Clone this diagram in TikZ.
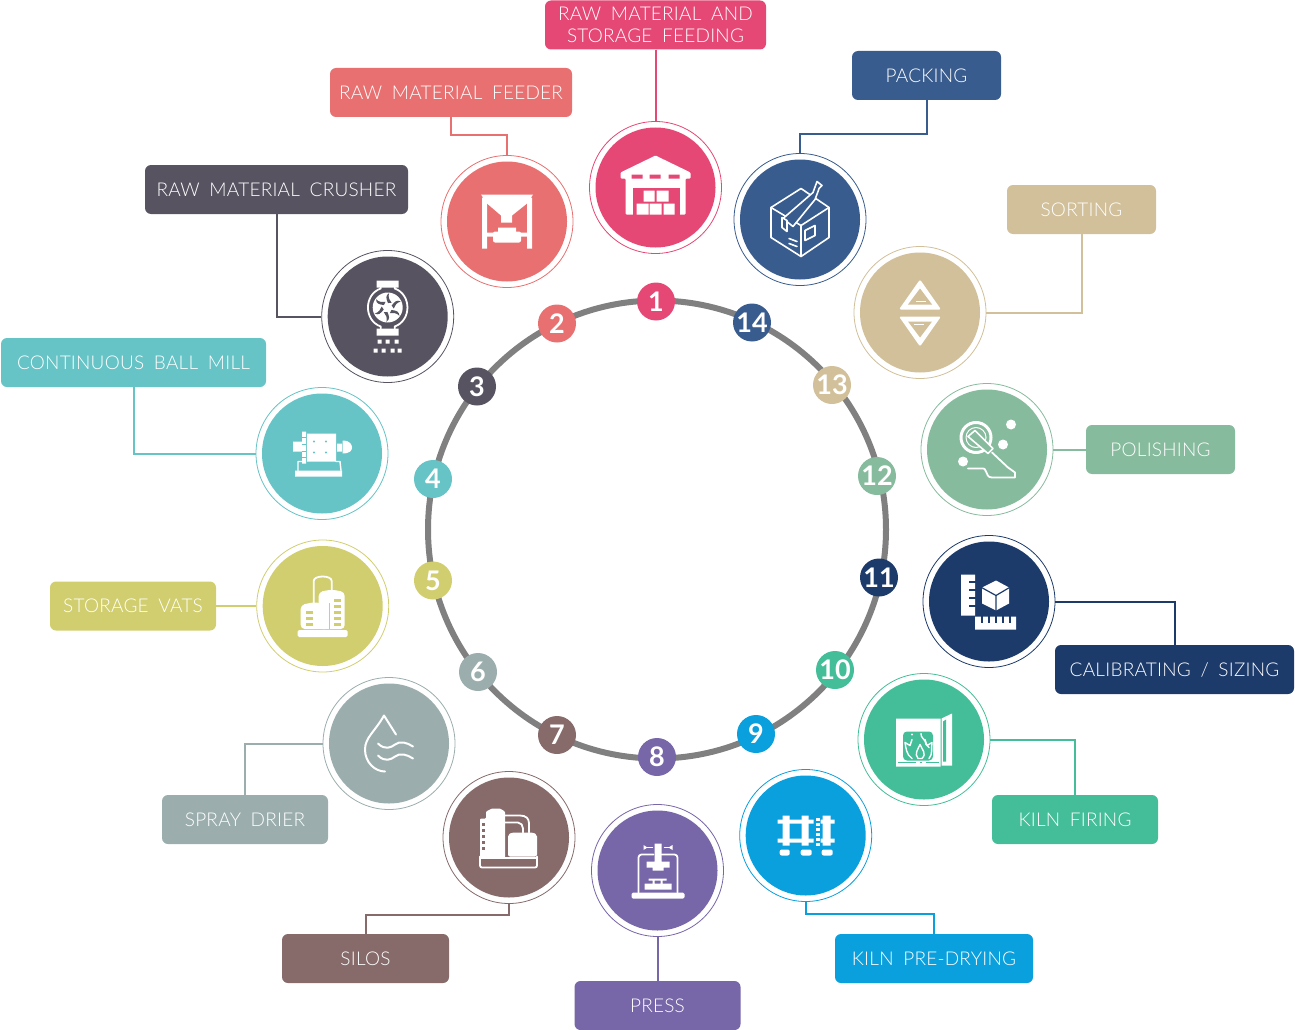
\documentclass[tikz,border=0pt]{standalone}
\usepackage{fontspec}
\usepackage{tikz}
\setmainfont[WordSpace=1.8,LetterSpace=1.2]{Lato Light}
\newfontfamily\numfont{Lato Bold}
\definecolor{col1}{HTML}{E54875}
\definecolor{col2}{HTML}{E87070}
\definecolor{col3}{HTML}{575361}
\definecolor{col4}{HTML}{66C3C6}
\definecolor{col5}{HTML}{D1CE6F}
\definecolor{col6}{HTML}{9BAEAD}
\definecolor{col7}{HTML}{876B6B}
\definecolor{col8}{HTML}{7766A8}
\definecolor{col9}{HTML}{0A9FDD}
\definecolor{col10}{HTML}{44BE98}
\definecolor{col11}{HTML}{1C3B6B}
\definecolor{col12}{HTML}{87BB9D}
\definecolor{col13}{HTML}{D1C09A}
\definecolor{col14}{HTML}{395C8F}

\begin{document}
\begin{tikzpicture}[x=1pt,y=-1pt,
    dot/.style={circle,fill=#1,text=white,minimum size=38,inner sep=0,font=\numfont\fontsize{27}{27}\selectfont},
    ring/.style={circle,draw=#1,fill=white,line width=.8,minimum size=132,inner sep=0,
                 path picture={\fill[#1] (path picture bounding box.center) circle (60);}},
    tag/.style={rounded corners=6,fill=#1,text=white,minimum height=49,inner sep=0,align=center,
                font=\fontsize{19}{22}\selectfont},
    link/.style={draw=#1,line width=2},
    wline/.style={draw=white,line width=1.8,line join=round,line cap=round}]
  \useasboundingbox (0,0) rectangle (1295,1030);

  \node[circle,draw=black!50,line width=6,minimum size=458,inner sep=0] (W) at (657,529.5) {};

  \node[dot=col1]  (S1)  at (656,301.5) {1};
  \node[dot=col2]  (S2)  at (557,323.5) {2};
  \node[dot=col3]  (S3)  at (477,386.5) {3};
  \node[dot=col4]  (S4)  at (433,479) {4};
  \node[dot=col5]  (S5)  at (433,580.5) {5};
  \node[dot=col6]  (S6)  at (478,672) {6};
  \node[dot=col7]  (S7)  at (557,735) {7};
  \node[dot=col8]  (S8)  at (657,757) {8};
  \node[dot=col9]  (S9)  at (756,734) {9};
  \node[dot=col10] (S10) at (835,670) {10};
  \node[dot=col11] (S11) at (879,577.5) {11};
  \node[dot=col12] (S12) at (877,476) {12};
  \node[dot=col13] (S13) at (832,385) {13};
  \node[dot=col14] (S14) at (752,322.5) {14};

  \node[ring=col1]  (I1)  at (655.5,187.5) {};
  \node[ring=col2]  (I2)  at (507,221.5) {};
  \node[ring=col3]  (I3)  at (387.7,316.5) {};
  \node[ring=col4]  (I4)  at (322,453.5) {};
  \node[ring=col5]  (I5)  at (322.7,606) {};
  \node[ring=col6]  (I6)  at (389,743.5) {};
  \node[ring=col7]  (I7)  at (509,837.5) {};
  \node[ring=col8]  (I8)  at (657.5,870.5) {};
  \node[ring=col9]  (I9)  at (805.7,835.5) {};
  \node[ring=col10] (I10) at (924,739.5) {};
  \node[ring=col11] (I11) at (989,601.5) {};
  \node[ring=col12] (I12) at (987,449.5) {};
  \node[ring=col13] (I13) at (920,312.5) {};
  \node[ring=col14] (I14) at (800,219.5) {};

  \node[tag=col1,minimum width=221]  (L1)  at (655.5,25)  {RAW MATERIAL AND\\STORAGE FEEDING};
  \node[tag=col2,minimum width=242]  (L2)  at (451,92.5)  {RAW MATERIAL FEEDER};
  \node[tag=col3,minimum width=263]  (L3)  at (276.5,189.5) {RAW MATERIAL CRUSHER};
  \node[tag=col4,minimum width=265]  (L4)  at (133.5,362.5) {CONTINUOUS BALL MILL};
  \node[tag=col5,minimum width=166]  (L5)  at (133,606) {STORAGE VATS};
  \node[tag=col6,minimum width=166]  (L6)  at (245,819.5) {SPRAY DRIER};
  \node[tag=col7,minimum width=167]  (L7)  at (365.5,958.5) {SILOS};
  \node[tag=col8,minimum width=166]  (L8)  at (657.5,1005.5) {PRESS};
  \node[tag=col9,minimum width=198]  (L9)  at (934,958.5) {KILN PRE-DRYING};
  \node[tag=col10,minimum width=166] (L10) at (1075,819.5) {KILN FIRING};
  \node[tag=col11,minimum width=239] (L11) at (1174.5,669.5) {CALIBRATING / SIZING};
  \node[tag=col12,minimum width=149] (L12) at (1160.5,449.5) {POLISHING};
  \node[tag=col13,minimum width=149] (L13) at (1081.5,209.5) {SORTING};
  \node[tag=col14,minimum width=149] (L14) at (926.5,75.5) {PACKING};

  \path[link=col1]  (L1) -- (I1);
  \path[link=col2]  (L2.south) -- ++(0,18) -| (I2.north);
  \path[link=col3]  (L3.south) |- (I3.west);
  \path[link=col4]  (L4.south) |- (I4.west);
  \path[link=col5]  (L5) -- (I5);
  \path[link=col6]  (I6.west) -| (L6.north);
  \path[link=col7]  (I7.south) -- ++(0,11) -| (L7.north);
  \path[link=col8]  (I8) -- (L8);
  \path[link=col9]  (I9.south) -- ++(0,12) -| (L9.north);
  \path[link=col10] (I10.east) -| (L10.north);
  \path[link=col11] (I11.east) -| (L11.north);
  \path[link=col12] (I12) -- (L12);
  \path[link=col13] (L13.south) |- (I13.east);
  \path[link=col14] (L14.south) -- ++(0,34) -| (I14.north);

  % warehouse
  \begin{scope}[shift={(I1)}]
    \fill[white,rounded corners=1] (0,-32) -- (35,-15) -- (35,-9) -- (30,-9) -- (30,27) -- (-30,27)
      -- (-30,-9) -- (-35,-9) -- (-35,-15) -- cycle;
    \fill[col1] (-24,-13) rectangle (-13,-9) (-6,-13) rectangle (5,-9) (13,-13) rectangle (24,-9);
    \fill[col1] (-23,0) rectangle (24,27.5);
    \fill[white] (-12,3) rectangle (-1,14) (1,3) rectangle (13,14)
      (-19,16) rectangle (-7,27) (-6,16) rectangle (6,27) (8,16) rectangle (19,27);
  \end{scope}

  % hopper over a mixer
  \begin{scope}[shift={(I2)}]
    \fill[white] (-25,-24) rectangle (-20,27) (20,-24) rectangle (25,27);
    \fill[white] (-26,-27) -- (26,-27) -- (20,-18) -- (5,-6) -- (5,1) -- (-6,1) -- (-6,-6) -- (-20,-18) -- cycle;
    \fill[white] (-20,11) rectangle (20,15) (-9,6) rectangle (9,11);
    \fill[white,rounded corners=2] (-14,10) rectangle (14,21);
  \end{scope}

  % crusher
  \begin{scope}[shift={(I3)}]
    \fill[white] (-11,-36) rectangle (11,-29) (-11,12) rectangle (11,19);
    \draw[wline] (-7,-29) -- (-7,-28) .. controls (-24,-22) and (-24,4) .. (-7,10)
      -- (-7,12) (7,-29) -- (7,-28) .. controls (24,-22) and (24,4) .. (7,10) -- (7,12);
    \fill[white] (0,-9) circle (15);
    \foreach \a in {0,60,...,300}
      \fill[col3,shift={(0,-9)},rotate=\a] (4,-2) .. controls (7,-6) and (9,-8) .. (13,-6) .. controls (9,-5) and (7,-2) .. (6,1) -- cycle;
    \fill[white] (-10,23) rectangle ++(4,4) (-2,23) rectangle ++(4,4) (7,23) rectangle ++(4,4)
      (-14,32) rectangle ++(4,4) (-6,32) rectangle ++(4,4) (3,32) rectangle ++(4,4) (10,32) rectangle ++(4,4);
  \end{scope}

  % ball mill
  \begin{scope}[shift={(I4)}]
    \fill[white] (-15,-20) rectangle (14,8) (-20,-22) rectangle (-16,10) (-29,-12) rectangle (-20,-2)
      (15,-10) rectangle (20,-2) (-27,17) rectangle (20,23);
    \fill[white] (20.5,-13) .. controls (28,-13) and (30,-9) .. (30,-6) .. controls (30,-3) and (28,0) .. (20.5,0) -- cycle;
    \draw[col4,line width=.8] (-20,-16) -- (-16,-16) (-20,-9) -- (-16,-9) (-20,-2) -- (-16,-2) (-20,4) -- (-16,4);
    \fill[col4] (-8,-12) circle (1.2) (4,-12) circle (1.2) (-8,-1) circle (1.2) (4,-1) circle (1.2);
    \draw[wline,line width=1.4] (-24,17) -- (-24,8) -- (-20,8) (14,8) -- (18,8) -- (19,17);
  \end{scope}

  % tanks with ladders
  \begin{scope}[shift={(I5)}]
    \fill[white,rounded corners=1.5] (-25,24) rectangle (25,31);
    \draw[wline] (-9,-3) -- (-9,-25) .. controls (-9,-31) and (9,-31) .. (9,-25) -- (9,-16);
    \fill[white,rounded corners=4] (-4,23) -- (-4,-14) -- (9,-16.5) -- (22,-14) -- (22,23) -- cycle;
    \draw[col5,line width=1] (6.7,23) -- (6.7,-3);
    \fill[white,rounded corners=4] (-22,23) -- (-22,-1) -- (-8,-4) -- (6,-1) -- (6,23) -- cycle;
    \foreach \y in {-7,-1,5,11,17}
      \fill[col5] (11,\y) rectangle ++(7,3);
    \foreach \y in {5,11,17}
      \fill[col5] (-17,\y) rectangle ++(7,3);
  \end{scope}

  % drop with waves
  \begin{scope}[shift={(I6)}]
    \draw[wline,line width=2] (7,-9) -- (-5,-28) .. controls (-14,-12) and (-24,-6) .. (-24,6)
      .. controls (-24,19) and (-14,28) .. (-4,28);
    \draw[wline,line width=2] (-11,0) .. controls (-4,7) and (2,4) .. (6,1) .. controls (11,-3) and (18,-1) .. (24,3);
    \draw[wline,line width=2] (-11,12) .. controls (-4,19) and (2,16) .. (6,13) .. controls (11,9) and (18,11) .. (24,15);
  \end{scope}

  % silos
  \begin{scope}[shift={(I7)}]
    \fill[white,rounded corners=1] (-29,-19) -- (-23,-19) -- (-23,-26) -- (-17,-29) -- (-9,-29) -- (-4,-26) -- (-4,20) -- (-29,20) -- cycle;
    \fill[white,rounded corners=2] (-1,19) -- (-1,-3) -- (3,-5) -- (24,-5) -- (28,-3) -- (28,19) -- cycle;
    \foreach \y in {-15,-9,-3,3,9}
      \fill[col7] (-27,\y) rectangle ++(3,3);
    \draw[wline] (-4,-22) -- (11,-22) .. controls (17,-22) and (20,-19) .. (20,-14) -- (20,-5);
    \draw[wline] (-4,-15) -- (9,-15) .. controls (12,-15) and (14,-12) .. (14,-9) -- (14,-5);
    \draw[wline,rounded corners=2] (-29,19) -- (-29,30) -- (28,30) -- (28,19);
    \draw[white,line width=2] (-29,20) -- (28,20);
    \draw[col7,line width=1] (-27,23) -- (26,23);
  \end{scope}

  % press
  \begin{scope}[shift={(I8)}]
    \fill[white,rounded corners=1.5] (-26,22) rectangle (27,28);
    \fill[white] (-3,-27) rectangle (4,-9) (-11,-9) rectangle (12,-3) (-5,-3) rectangle (6,0);
    \fill[white] (-13,13) rectangle (14,19) (-9,8) rectangle (9,10) (-5,10) rectangle (-3,13) (3,10) rectangle (5,13);
    \draw[wline,rounded corners=3] (-19,22) -- (-19,-16) -- (-4,-16) (20,22) -- (20,-16) -- (4,-16);
    \draw[wline,line width=1.2] (-13,-23) -- (-5,-23) (7,-23) -- (14,-23);
    \fill[white] (-14,-25.5) -- (-14,-20.5) -- (-10,-23) -- cycle;
    \fill[white] (15,-25.5) -- (15,-20.5) -- (11,-23) -- cycle;
  \end{scope}

  % rails
  \begin{scope}[shift={(I9)}]
    \fill[white] (-23,-20) rectangle (-16,10) (-4,-20) rectangle (3,10) (17,-20) rectangle (25,10);
    \fill[white] (-28,-16) rectangle (8,-12) (-28,3) rectangle (8,7) (15,-16) rectangle (29,-12) (15,3) rectangle (29,7);
    \foreach \y in {-18,-13,-8,-3,2,7}
      \fill[white] (10,\y) rectangle ++(4,3.6);
    \fill[white,rounded corners=2] (-26,14) rectangle (-16,20) (-5,14) rectangle (6,20) (16,14) rectangle (27,20);
  \end{scope}

  % kiln with open door
  \begin{scope}[shift={(I10)}]
    \fill[white] (-28,-21) rectangle (16.5,27) (17.5,-21) -- (28,-26) -- (28,26) -- (17.5,26) -- cycle;
    \fill[col10] (19,-18) -- (22,-20) -- (22,22) -- (19,22) -- cycle;
    \fill[col10,rounded corners=4] (-21,-8) rectangle (9,21);
    \draw[col10,line width=1] (-26,23) -- (-8,23) (-4,23) -- (-2,23) (2,23) -- (15,23);
    \draw[wline,line width=1.4] (-12,19) .. controls (-18,15) and (-18,8) .. (-19,3) -- (-14,6) -- (-12,0)
      (5,19) .. controls (9,15) and (7,8) .. (8,3) -- (3,6) -- (1,0)
      (-6,19) .. controls (-10,14) and (-6,10) .. (-4,5) .. controls (-2,10) and (3,14) .. (-2,19) -- cycle
      (-3,-6) .. controls (-4,-2) and (2,0) .. (2,5) -- (5,8);
    \fill[white] (-12,-5) circle (1.2);
  \end{scope}

  % rulers and cube
  \begin{scope}[shift={(I11)}]
    \fill[white] (-28,-27) rectangle (-14,14) (-14,15) rectangle (27,28);
    \foreach \y in {-21,-13,-5,3}
      \fill[col11] (-20,\y) rectangle (-13,\y+2);
    \foreach \x in {-8,-1,6,13,20}
      \fill[col11] (\x,14) rectangle (\x+2,21);
    \fill[white] (7,-21) -- (20,-14) -- (20,2) -- (7,9) -- (-7,2) -- (-7,-14) -- cycle;
    \draw[col11,line width=1.2] (-7.5,-14) -- (7,-6) -- (20.5,-14) (7,-6) -- (7,10);
  \end{scope}

  % polishing head
  \begin{scope}[shift={(I12)}]
    \draw[wline,line width=3] (-11,-12) circle (15);
    \draw[wline,line width=1] (-11,-12) circle (10);
    \fill[white] (24,-25) circle (5) (16,-5) circle (5) (-24,12) circle (5);
    \draw[fill=col12,wline,line width=1.6] (-19,-13) -- (-12,-19) -- (6,-1) -- (1,4) -- cycle;
    \draw[wline] (5,3) -- (21,18) -- (28,23) -- (28,28) -- (5,28) .. controls (1,28) and (0,25) .. (-1,22) .. controls (-2,19) and (-3,19) .. (-4,19) -- (-19,19);
  \end{scope}

  % sort triangles
  \begin{scope}[shift={(I13)}]
    \fill[white,rounded corners=1.5] (0,-33) -- (21,-3) -- (-21,-3) -- cycle;
    \fill[white,rounded corners=1.5] (0,34) -- (21,4) -- (-21,4) -- cycle;
    \fill[col13] (0,-24) -- (12,-8) -- (-12,-8) -- cycle;
    \fill[col13] (0,25) -- (12,9) -- (-12,9) -- cycle;
    \draw[white,line width=.5] (-4,-11) -- (6,-11) (-6,12) -- (4,12);
  \end{scope}

  % packed box
  \begin{scope}[shift={(I14)}]
    \draw[wline,line width=1.6] (-29,-12) -- (1,-31) -- (29,-12) -- (29,18) -- (1,37) -- (-29,18) -- cycle;
    \draw[wline,line width=1.6] (-29,-12) -- (1,6) -- (29,-12) (1,6) -- (1,37);
    \draw[fill=col14,wline,line width=1.6] (-17,-1) -- (13,-27) -- (17,-38) -- (22,-34) -- (19,-31) -- (18,-28) -- (15,-20) -- (-7,7) -- cycle;
    \draw[fill=col14,wline,line width=1.6] (-18,-2) -- (-18,8) -- (-13,12) -- (-13,1) -- cycle;
    \draw[wline,line width=1.6] (5,11) -- (15,6) -- (15,16) -- (5,21) -- cycle;
    \draw[wline,line width=1.6] (-11,19) -- (-3,22) (-11,24) -- (-3,27);
  \end{scope}
\end{tikzpicture}
\end{document}
